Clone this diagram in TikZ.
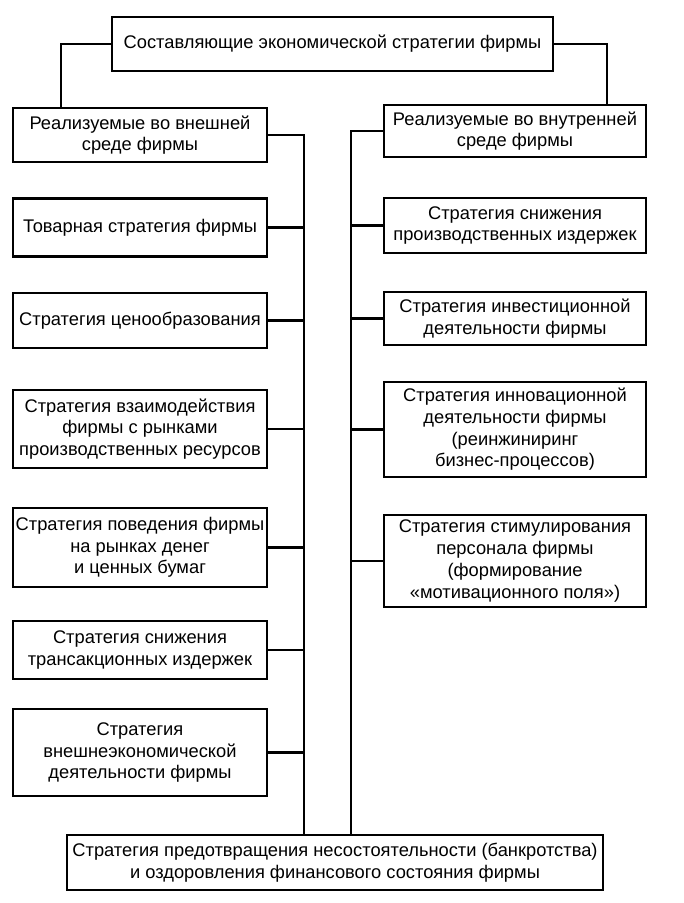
\documentclass[tikz,border=0pt]{standalone}
\usepackage{fontspec}
\setmainfont{Liberation Sans}
\begin{document}
\begin{tikzpicture}[x=1pt,y=-1pt,
  box/.style={draw, line width=2.3pt, align=center, inner sep=0pt,
    font=\fontsize{18.3}{21.7}\selectfont},
  lbox/.style={box, minimum width=254pt},
  rbox/.style={box, minimum width=262pt},
  conn/.style={line width=2.3pt}]
\useasboundingbox (0,0) rectangle (684,903);
\fill[white] (0,0) rectangle (684,903);
\node[box, minimum width=441pt, minimum height=54pt] (top) at (332.5,44) {Составляющие экономической стратегии фирмы};
\node[lbox, minimum height=54pt] (L0) at (140,135) {Реализуемые во внешней\\среде фирмы};
\node[rbox, minimum height=52pt] (R0) at (515,131) {Реализуемые во внутренней\\среде фирмы};
\node[lbox, minimum height=58pt] (L1) at (140,227.5) {Товарная стратегия фирмы};
\node[lbox, minimum height=55pt] (L2) at (140,320.5) {Стратегия ценообразования};
\node[lbox, minimum height=78pt] (L3) at (140,429) {Стратегия взаимодействия\\фирмы с рынками\\производственных ресурсов};
\node[lbox, minimum height=79pt] (L4) at (140,547.5) {Стратегия поведения фирмы\\на рынках денег\\и ценных бумаг};
\node[lbox, minimum height=58pt] (L5) at (140,650) {Стратегия снижения\\трансакционных издержек};
\node[lbox, minimum height=87pt] (L6) at (140,752.5) {Стратегия\\внешнеэкономической\\деятельности фирмы};
\node[rbox, minimum height=55pt] (R1) at (515,225.5) {Стратегия снижения\\производственных издержек};
\node[rbox, minimum height=53pt] (R2) at (515,318.5) {Стратегия инвестиционной\\деятельности фирмы};
\node[rbox, minimum height=95pt] (R3) at (515,429.5) {Стратегия инновационной\\деятельности фирмы\\(реинжиниринг\\бизнес-процессов)};
\node[rbox, minimum height=92pt] (R4) at (515,561) {Стратегия стимулирования\\персонала фирмы\\(формирование\\«мотивационного поля»)};
\node[box, minimum width=536pt, minimum height=55pt] (bot) at (335,862.5) {Стратегия предотвращения несостоятельности (банкротства)\\и оздоровления финансового состояния фирмы};
\coordinate (cl) at (61,0);
\coordinate (cr) at (607,0);
\coordinate (lb) at (304,0);
\coordinate (rb) at (351,0);
\draw[conn] (top.west) -| (cl |- L0.north);
\draw[conn] (top.east) -| (cr |- R0.north);
\draw[conn] (L0.east) -| (lb |- bot.north);
\draw[conn] (R0.west) -| (rb |- bot.north);
\foreach \n in {L1,L2,L3,L4,L5,L6} \draw[conn] (\n.east) -- (lb |- \n.east);
\foreach \n in {R1,R2,R3,R4} \draw[conn] (\n.west) -- (rb |- \n.west);
\end{tikzpicture}
\end{document}
